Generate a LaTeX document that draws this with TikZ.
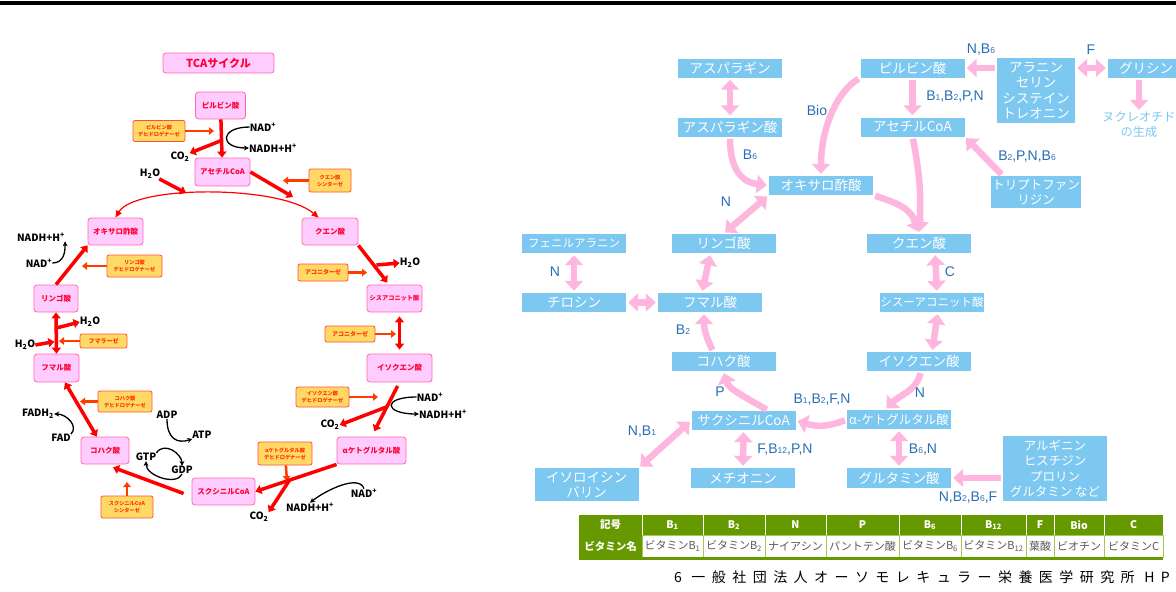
\documentclass[tikz,border=0pt]{standalone}
\usepackage{fontspec}
\setmainfont{Noto Sans CJK JP}
\newfontfamily\labfont{Liberation Sans}
\usetikzlibrary{arrows.meta,calc}
\definecolor{tcafill}{RGB}{255,204,255}
\definecolor{tcaline}{RGB}{255,102,170}
\definecolor{tcatext}{RGB}{255,0,51}
\definecolor{enzfill}{RGB}{255,217,102}
\definecolor{enzline}{RGB}{255,80,60}
\definecolor{enztext}{RGB}{255,51,0}
\definecolor{enzarrow}{RGB}{255,60,0}
\definecolor{rxnred}{RGB}{255,0,0}
\definecolor{vblue}{RGB}{125,200,240}
\definecolor{vpink}{RGB}{255,182,222}
\definecolor{vlabel}{RGB}{40,110,180}
\definecolor{tabgreen}{RGB}{102,153,0}
\definecolor{tabline}{RGB}{160,200,90}
\newcommand*{\Bs}[1]{B{\fontsize{8.5}{8.5}\selectfont #1}}
\newcommand*{\tabTop}{515}
\newcommand*{\tabMid}{535}
\newcommand*{\tabBot}{557}

\begin{document}
\begin{tikzpicture}[x=1pt,y=-1pt,
    tcabox/.style={draw=tcaline,fill=tcafill,line width=0.8pt,rounded corners=3pt,minimum height=27pt,inner sep=0pt,text=tcatext,font=\fontsize{7.5}{8}\selectfont\bfseries},
    enzbox/.style={draw=enzline,fill=enzfill,line width=0.8pt,rounded corners=2pt,inner sep=0pt,align=center,text=enztext,font=\fontsize{5.2}{7}\selectfont\bfseries},
    chem/.style={inner sep=0pt,font=\fontsize{10}{10}\selectfont\bfseries},
    rxn/.style={draw=rxnred,line width=3.5pt,-{Triangle[length=6pt,width=9pt]}},
    rxnboth/.style={rxn,{Triangle[length=6pt,width=9pt]}-{Triangle[length=6pt,width=9pt]}},
    enz/.style={draw=enzarrow,line width=2.5pt,-{Triangle[length=5pt,width=7.5pt]}},
    cof/.style={draw=black,line width=1.3pt,-{Stealth[length=5pt,width=5pt]}},
    vbox/.style={fill=vblue,minimum width=104pt,minimum height=19pt,inner sep=0pt,align=center,text=white,font=\fontsize{13.5}{15.5}\selectfont},
    vlab/.style={inner sep=0pt,text=vlabel,font=\labfont\fontsize{14}{14}\selectfont},
    parr/.style={draw=vpink,line width=6.5pt,shorten <=2pt,shorten >=2pt,-{Triangle[length=10pt,width=18pt]}},
    pboth/.style={parr,{Triangle[length=10pt,width=18pt]}-{Triangle[length=10pt,width=18pt]}},
    cellhead/.style={inner sep=0pt,text=white,font=\fontsize{10.5}{11}\selectfont\bfseries},
    cellname/.style={inner sep=0pt,text=black!65,font=\fontsize{11}{12}\selectfont}]
    \useasboundingbox (0,0) rectangle (1176,592);
    \fill [black] (0,1) rectangle (1176,5);

    \node[tcabox,minimum width=111pt,minimum height=20pt,font=\fontsize{11}{12}\selectfont\bfseries] (tca) at (218.5,63) {TCAサイクル};
    \node[tcabox,minimum width=50pt] (pyr) at (220.5,105.5) {ピルビン酸};
    \node[tcabox,minimum width=55pt,minimum height=28pt] (acoa) at (222.5,172) {アセチルCoA};
    \node[tcabox,minimum width=55pt] (oaa) at (115.5,231.5) {オキサロ酢酸};
    \node[tcabox,minimum width=56pt] (cit) at (330,231.5) {クエン酸};
    \node[tcabox,minimum width=44pt] (mal) at (56,298.5) {リンゴ酸};
    \node[tcabox,minimum width=55pt,font=\fontsize{6.2}{7}\selectfont\bfseries] (cis) at (394.5,298.5) {シスアコニット酸};
    \node[tcabox,minimum width=45pt,minimum height=28pt] (fum) at (56.5,368) {フマル酸};
    \node[tcabox,minimum width=65pt,minimum height=28pt] (iso) at (399.5,368) {イソクエン酸};
    \node[tcabox,minimum width=48pt] (suc) at (105,450.5) {コハク酸};
    \node[tcabox,minimum width=69pt] (akg) at (371.5,450.5) {αケトグルタル酸};
    \node[tcabox,minimum width=63pt] (scoa) at (223.5,491.5) {スクシニルCoA};

    \node[enzbox,minimum width=52pt,minimum height=21pt] (e1) at (159,131) {ピルビン酸\\デヒドロゲナーゼ};
    \node[enzbox,minimum width=42pt,minimum height=23pt] (e2) at (330,180.5) {クエン酸\\シンターゼ};
    \node[enzbox,minimum width=55pt,minimum height=22pt] (e3) at (134.5,266) {リンゴ酸\\デヒドロゲナーゼ};
    \node[enzbox,minimum width=50pt,minimum height=17pt,font=\fontsize{6}{7}\selectfont\bfseries] (e4) at (323,272.5) {アコニターゼ};
    \node[enzbox,minimum width=47pt,minimum height=14pt,font=\fontsize{6}{7}\selectfont\bfseries] (e5) at (103.5,341) {フマラーゼ};
    \node[enzbox,minimum width=50pt,minimum height=16pt,font=\fontsize{6}{7}\selectfont\bfseries] (e6) at (350,334) {アコニターゼ};
    \node[enzbox,minimum width=54pt,minimum height=21pt] (e7) at (125,401.5) {コハク酸\\デヒドロゲナーゼ};
    \node[enzbox,minimum width=53pt,minimum height=20pt] (e8) at (322.5,397) {イソクエン酸\\デヒドロゲナーゼ};
    \node[enzbox,minimum width=54pt,minimum height=23pt] (e9) at (285,453.5) {αケトグルタル酸\\デヒドロゲナーゼ};
    \node[enzbox,minimum width=52pt,minimum height=22pt] (e10) at (127,507) {スクシニルCoA\\シンターゼ};

    \coordinate (t1) at (214,131);
    \coordinate (t2) at (283,180.5);
    \coordinate (t3) at (82,266);
    \coordinate (t4) at (367,272.5);
    \coordinate (t5) at (59,341);
    \coordinate (t6) at (396,334);
    \coordinate (t7) at (80,401.5);
    \coordinate (t8) at (378,397);
    \coordinate (t9) at (287,481);
    \coordinate (t10) at (127,482);
    \foreach \e in {1,...,10} {
      \draw[enz] (e\e) -- (t\e);
    }

    \node[chem] (nad1) at (263,127) {NAD\textsuperscript{+}};
    \node[chem] (nadh1) at (273,148) {NADH+H\textsuperscript{+}};
    \node[chem] (co21) at (180,157) {CO\textsubscript{2}};
    \node[chem] (h2o1) at (150,174) {H\textsubscript{2}O};
    \node[chem] (nadh2) at (41,237) {NADH+H\textsuperscript{+}};
    \node[chem] (nad2) at (39,263) {NAD\textsuperscript{+}};
    \node[chem] (h2o2) at (90,322) {H\textsubscript{2}O};
    \node[chem] (h2o3) at (25,345) {H\textsubscript{2}O};
    \node[chem] (fadh) at (38,414) {FADH\textsubscript{2}};
    \node[chem] (fad) at (61,438) {FAD};
    \node[chem] (adp) at (167,415) {ADP};
    \node[chem] (atp) at (202,435) {ATP};
    \node[chem] (gtp) at (146,457) {GTP};
    \node[chem] (gdp) at (182,470) {GDP};
    \node[chem] (co23) at (259,517) {CO\textsubscript{2}};
    \node[chem] (nadh3) at (310,507) {NADH+H\textsuperscript{+}};
    \node[chem] (nad3) at (364,493) {NAD\textsuperscript{+}};
    \node[chem] (co22) at (330,425) {CO\textsubscript{2}};
    \node[chem] (nad4) at (430,397) {NAD\textsuperscript{+}};
    \node[chem] (nadh4) at (443,414) {NADH+H\textsuperscript{+}};
    \node[chem] (h2o4) at (410,263) {H\textsubscript{2}O};
    \coordinate (j1) at (186,193);
    \coordinate (j2) at (293,197);

    \draw[rxn] (pyr) -- (acoa);
    \draw[rxn] ($(pyr.south)!.55!(acoa.north)$) -- (co21);
    \draw[cof] (nad1.west) .. controls +(-30,0) and +(-30,0) .. (nadh1.west);
    \draw[rxn] (h2o1) -- (j1);
    \draw[rxn] (acoa.east) -- (j2);
    \draw[draw=rxnred,line width=1.2pt,{Triangle[length=7pt,width=6pt]}-{Triangle[length=7pt,width=6pt]}] (oaa.north) .. controls (135,185) and (280,185) .. ($(cit.north west)!.3!(cit.north east)$);
    \draw[rxn] (mal.north) -- (oaa.south west);
    \draw[cof] (nad2.east) .. controls +(12,0) and +(0,10) .. (nadh2.south east);
    \draw[rxnboth] (mal.south) -- (fum.north);
    \draw[rxn] ($(mal.south)!.38!(fum.north)$) -- (h2o2.west);
    \draw[rxn,shorten >=2pt] (h2o3.east) -- ($(mal.south)!.7!(fum.north)$);
    \draw[rxnboth] (suc) -- (fum);
    \draw[cof] (fad.north east) .. controls +(8,-8) and +(12,0) .. (fadh.east);
    \draw[rxn] ($(scoa.west)+(-8,2)$) -- ($(suc.south)+(8,3)$);
    \draw[cof] (adp.south) .. controls +(0,20) and +(-15,5) .. (atp.south west);
    \draw[cof] (gtp.north east) .. controls +(8,-12) and +(0,-12) .. (gdp.north);
    \draw[cof] (gdp.south) .. controls +(-5,12) and +(0,15) .. (gtp.south);
    \draw[rxn] (akg.south west) -- (scoa.east);
    \draw[rxn] ($(akg.south west)!.58!(scoa.east)$) -- (co23.north east);
    \draw[cof] (nad3.north) .. controls +(-5,-15) and +(15,-12) .. (nadh3.north);
    \draw[rxn,shorten <=4pt,shorten >=6pt] (iso.south) -- (akg.north);
    \draw[rxn] ($(iso.south)!.45!(akg.north)$) -- (co22.east);
    \draw[cof] (nad4.west) .. controls +(-35,0) and +(-35,0) .. (nadh4.west);
    \draw[rxnboth,shorten <=4pt,shorten >=4pt] (iso.north |- cis.south) -- (iso.north);
    \draw[rxn] (cit.south east) -- ($(cis.north)+(-7,-2)$);
    \draw[rxn] ($(cit.south east)!.5!(cis.north)$) -- (h2o4.west);

    \node[vbox] (asn) at (730,68) {アスパラギン};
    \node[vbox] (asp) at (730,127) {アスパラギン酸};
    \node[vbox] (oaa2) at (821,185.5) {オキサロ酢酸};
    \node[vbox] (pyr2) at (912.5,68) {ピルビン酸};
    \node[vbox] (acoa2) at (912.5,127) {アセチルCoA};
    \node[vbox,minimum width=78pt,minimum height=65pt] (ala) at (1036,90.5) {アラニン\\セリン\\システイン\\トレオニン};
    \node[vbox,minimum width=76pt] (gly) at (1146,68) {グリシン};
    \node[inner sep=0pt,align=center,text=vblue,font=\fontsize{12.2}{15}\selectfont] (nuc) at (1139,125) {ヌクレオチド\\の生成};
    \node[vbox,minimum width=90pt,minimum height=32pt,font=\fontsize{12.5}{15}\selectfont] (trp) at (1036,192) {トリプトファン\\リジン};
    \node[vbox] (cit2) at (919,243.5) {クエン酸};
    \node[vbox,font=\fontsize{11.5}{13}\selectfont] (cis2) at (932,302.5) {シスーアコニット酸};
    \node[vbox] (iso2) at (919,361.5) {イソクエン酸};
    \node[vbox,font=\fontsize{12.5}{15}\selectfont] (akg2) at (899,419.5) {α-ケトグルタル酸};
    \node[vbox] (scoa2) at (743.5,420.5) {サクシニルCoA};
    \node[vbox] (suc2) at (723.5,361.5) {コハク酸};
    \node[vbox] (fum2) at (710,302.5) {フマル酸};
    \node[vbox] (mal2) at (723.5,243.5) {リンゴ酸};
    \node[vbox,font=\fontsize{11.5}{13}\selectfont] (phe) at (574,243.5) {フェニルアラニン};
    \node[vbox] (tyr) at (574,302.5) {チロシン};
    \node[vbox,minimum height=33pt,font=\fontsize{13.5}{15}\selectfont] (ile) at (586.5,484.5) {イソロイシン\\バリン};
    \node[vbox,minimum height=20pt] (met) at (743,478) {メチオニン};
    \node[vbox,minimum height=20pt] (glu) at (899,478) {グルタミン酸};
    \node[vbox,minimum height=65pt,font=\fontsize{12.5}{15.5}\selectfont] (arg) at (1055,468.5) {アルギニン\\ヒスチジン\\プロリン\\グルタミン など};

    \draw[pboth] (asn) -- (asp);
    \draw[parr] (asp.south) .. controls +(0,35) and +(-25,-3) .. (oaa2.west);
    \draw[pboth] (oaa2.south west) -- (mal2.north);
    \draw[parr] (pyr2.south west) .. controls +(-25,15) and +(0,-45) .. (oaa2.north);
    \draw[parr] (ala.west |- pyr2) -- (pyr2.east);
    \draw[pboth] (ala.east |- gly) -- (gly.west);
    \draw[parr] (gly.south -| nuc) -- (nuc);
    \draw[parr] (pyr2) -- (acoa2);
    \draw[parr] ($(trp.north west)+(12,0)$) -- (acoa2.south east);
    \draw[parr] (acoa2.south) .. controls +(8,40) and +(2,-35) .. (cit2.north);
    \draw[parr] (oaa2.south east) .. controls +(25,8) and +(-8,-25) .. (cit2.north);
    \draw[pboth] ($(cit2.south)+(16,0)$) -- ($(cis2.north)+(5,0)$);
    \draw[pboth] ($(cis2.south)+(6,0)$) -- ($(iso2.north)+(13,0)$);
    \draw[parr] ($(iso2.south)+(2,0)$) .. controls +(-5,20) and +(15,-15) .. ($(akg2.north)+(-14,0)$);
    \draw[parr] (akg2.west) .. controls +(-20,8) and +(20,6) .. (scoa2.east);
    \draw[parr] ($(scoa2.north)+(25,0)$) .. controls +(-20,-12) and +(5,18) .. (suc2.south);
    \draw[parr] ($(suc2.north)+(-10,0)$) .. controls +(-8,-15) and +(0,15) .. ($(fum2.south)+(-6,0)$);
    \draw[pboth] ($(fum2.north)+(-8,0)$) -- ($(mal2.south)+(-13,0)$);
    \draw[pboth] (phe) -- (tyr);
    \draw[pboth] (tyr) -- (fum2);
    \draw[pboth] (ile.north east) -- (scoa2.west);
    \draw[pboth] (scoa2) -- (met);
    \draw[pboth] (akg2) -- (glu);
    \draw[parr] (arg.west |- glu) -- (glu.east);

    \node[vlab] (lb1) at (750,155) {\Bs{6}};
    \node[vlab] (lb2) at (726,202) {N};
    \node[vlab] (lb3) at (817,110) {Bio};
    \node[vlab] (lb4) at (981,50) {N,\Bs{6}};
    \node[vlab] (lb5) at (1091,50) {F};
    \node[vlab] (lb6) at (955,97) {\Bs{1},\Bs{2},P,N};
    \node[vlab] (lb7) at (1027,157) {\Bs{2},P,N,\Bs{6}};
    \node[vlab] (lb8) at (950,272) {C};
    \node[vlab] (lb9) at (920,393) {N};
    \node[vlab] (lb10) at (822,400) {\Bs{1},\Bs{2},F,N};
    \node[vlab] (lb11) at (720,392) {P};
    \node[vlab] (lb12) at (683,330) {\Bs{2}};
    \node[vlab] (lb13) at (555,272) {N};
    \node[vlab] (lb14) at (642,432) {N,\Bs{1}};
    \node[vlab] (lb15) at (785,450) {F,\Bs{12},P,N};
    \node[vlab] (lb16) at (923,450) {\Bs{6},N};
    \node[vlab] (lb17) at (968,498) {N,\Bs{2},\Bs{6},F};

    \fill [tabgreen] (579,\tabTop) rectangle (1163,\tabMid);
    \fill [tabgreen] (579,\tabMid) rectangle (642,\tabBot);
    \draw [tabline,line width=1pt] (642,\tabMid) rectangle (1163,\tabBot);
    \foreach \xl/\xr/\sym/\vname in {642/703/B\textsubscript{1}/ビタミンB\textsubscript{1},703/765/B\textsubscript{2}/ビタミンB\textsubscript{2},765/826/N/ナイアシン,826/899/P/パントテン酸,899/961/B\textsubscript{6}/ビタミンB\textsubscript{6},961/1026/B\textsubscript{12}/ビタミンB\textsubscript{12},1026/1054/F/葉酸,1054/1104/Bio/ビオチン,1104/1163/C/ビタミンC} {
      \draw [white,line width=1pt] (\xl,\tabTop) -- (\xl,\tabMid);
      \draw [tabline,line width=1pt] (\xl,\tabMid) -- (\xl,\tabBot);
      \node[cellhead] (h\xl) at ({(\xl+\xr)/2},525) {\sym};
      \node[cellname] (n\xl) at ({(\xl+\xr)/2},546) {\vname};
    }
    \node[cellhead] (hsym) at (610.5,525) {記号};
    \node[cellhead] (hname) at (610.5,546) {ビタミン名};
    \fill [tabgreen] (579,557) rectangle (1163,560);

    \node[anchor=east,inner sep=0pt,font=\fontsize{14}{14}\selectfont\addfontfeatures{LetterSpace=46}] (src) at (1170,577) {6 一般社団法人オーソモレキュラー栄養医学研究所 HP};
\end{tikzpicture}
\end{document}
